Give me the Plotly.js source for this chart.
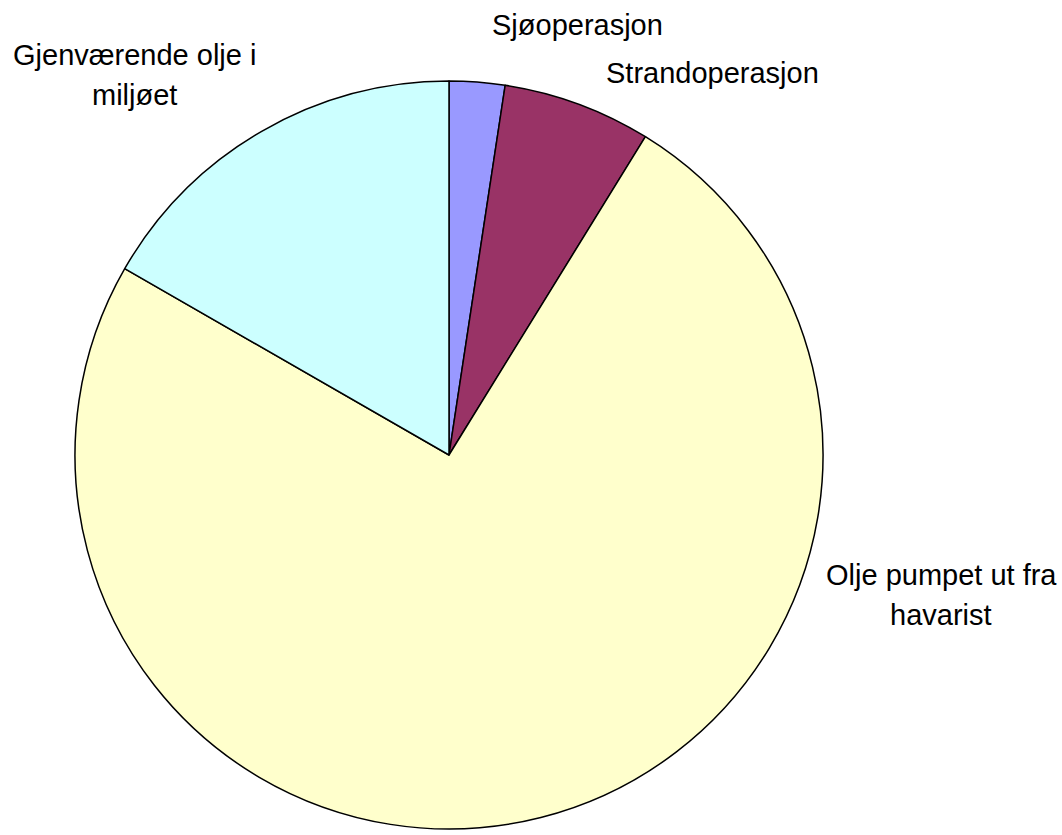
<!DOCTYPE html>
<html>
<head>
<meta charset="utf-8">
<script src="https://cdn.plot.ly/plotly-3.0.1.min.js"></script>
<style>html,body{margin:0;padding:0;background:#fff;}#chart{width:1062px;height:835px;}</style>
</head>
<body>
<div id="chart"></div>
<script>
const categories = ["Sjøoperasjon", "Strandoperasjon", "Olje pumpet ut fra havarist", "Gjenværende olje i miljøet"];
const labelLines = [["Sjøoperasjon"], ["Strandoperasjon"], ["Olje pumpet ut fra", "havarist"], ["Gjenværende olje i", "miljøet"]];
const values = [2.4, 6.4, 74.5, 16.7];
const colors = ["#9999FF", "#993366", "#FFFFCC", "#CCFFFF"];

const W = 1062, H = 835;
const cx = 449, cy = 455, r = 374;
const labelPos = [[577, 25], [712, 73], [941, 575], [134, 55]];
const lineGap = 40;

const annotations = [];
labelLines.forEach((lines, i) => {
  lines.forEach((t, j) => {
    annotations.push({
      text: t,
      xref: 'paper', yref: 'paper',
      x: labelPos[i][0] / W, y: 1 - (labelPos[i][1] + j * lineGap) / H,
      xanchor: 'center', yanchor: 'middle',
      showarrow: false,
      font: {family: 'Liberation Sans, Arial, sans-serif', size: 29, color: '#000'}
    });
  });
});

const data = [{
  type: 'pie',
  labels: categories,
  values: values,
  sort: false,
  direction: 'clockwise',
  rotation: 0,
  textinfo: 'none',
  hoverinfo: 'none',
  marker: {colors: colors, line: {color: '#000', width: 1.5}},
  domain: {x: [(cx - r) / W, (cx + r) / W], y: [1 - (cy + r) / H, 1 - (cy - r) / H]}
}];

const layout = {
  width: W, height: H,
  margin: {l: 0, r: 0, t: 0, b: 0},
  paper_bgcolor: '#fff',
  showlegend: false,
  annotations: annotations
};

Plotly.newPlot('chart', data, layout, {displayModeBar: false, staticPlot: true});
</script>
</body>
</html>
